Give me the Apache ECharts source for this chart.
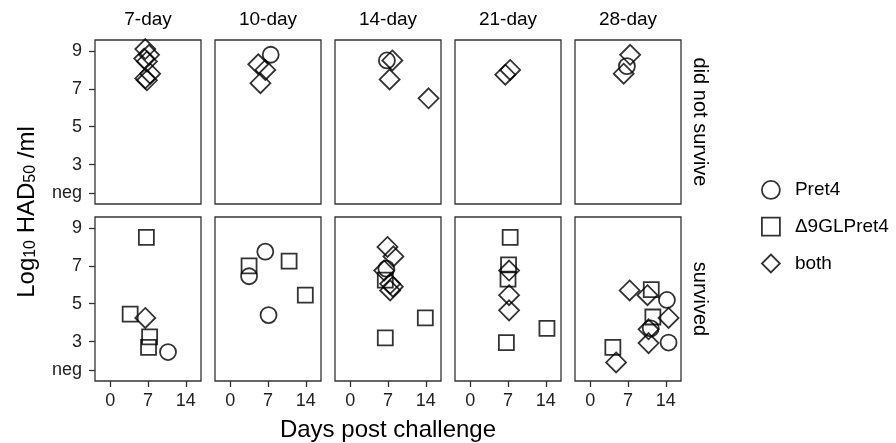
<!DOCTYPE html>
<html>
<head>
<meta charset="utf-8">
<script src="https://cdn.jsdelivr.net/npm/echarts@6/dist/echarts.min.js"></script>
<style>
  html, body { margin: 0; padding: 0; background: #fff; }
  #chart { width: 896px; height: 443px; }
</style>
</head>
<body>
<div id="chart"></div>
<script>
// Facet columns: time from infection to challenge
const periods = ['7-day', '10-day', '14-day', '21-day', '28-day'];
// Facet rows: outcome
const outcomes = ['did not survive', 'survived'];
const strains = ['Pret4', 'Δ9GLPret4', 'both'];

const xTicks = [0, 7, 14];
const yTicks = [1.5, 3, 5, 7, 9];
const yTickLabels = ['neg', '3', '5', '7', '9'];

// [days post challenge, log10 HAD50/ml], one list per period
const deadPret4 = [
  [],
  [[7.5, 8.8]],
  [[6.8, 8.5]],
  [],
  [[6.8, 8.2]]
];
const deadD9 = [[], [], [], [], []];
const deadBoth = [
  [[6.5, 9.1], [7.2, 8.8], [6.3, 8.6], [6.8, 8.45], [7.4, 7.8], [6.5, 7.55], [6.8, 7.45]],
  [[5.2, 8.3], [6.5, 8.0], [5.6, 7.3]],
  [[7.8, 8.5], [7.3, 7.5], [14.5, 6.5]],
  [[7.4, 8.0], [6.5, 7.75]],
  [[7.4, 8.8], [6.2, 7.8]]
];

const survPret4 = [
  [[10.7, 2.45]],
  [[3.5, 6.45], [6.5, 7.75], [7.1, 4.4]],
  [[6.7, 6.85]],
  [],
  [[14.2, 5.2], [11.2, 3.7], [14.5, 2.95]]
];
const survD9 = [
  [[6.7, 8.5], [3.7, 4.45], [7.3, 3.25], [7.1, 2.7]],
  [[3.5, 7.0], [10.9, 7.25], [13.9, 5.45]],
  [[6.5, 6.25], [6.5, 3.2], [13.9, 4.25]],
  [[7.4, 8.5], [7.1, 7.05], [7.0, 6.3], [6.7, 2.95], [14.2, 3.7]],
  [[11.3, 5.75], [11.6, 4.3], [4.2, 2.7]]
];
const survBoth = [
  [[6.5, 4.25]],
  [],
  [[6.9, 8.0], [8.0, 7.5], [6.3, 6.75], [7.4, 6.05], [7.9, 5.9], [7.4, 5.7]],
  [[7.2, 6.75], [7.2, 5.45], [7.2, 4.65]],
  [[7.3, 5.7], [10.6, 5.45], [14.5, 4.25], [10.8, 3.65], [10.8, 2.92], [4.8, 1.9]]
];

const rows = [
  [deadPret4, deadD9, deadBoth],
  [survPret4, survD9, survBoth]
];

const FONT = '"Liberation Sans", Arial, sans-serif';
const INK = '#000';
const FRAME = '#333';
const symbols = ['circle', 'rect', 'diamond'];
const sizes = [16, 15, 20];

const panelLeft = [95, 215, 335, 455, 575];
const panelWidth = 106;
const rowTop = [40, 217];
const panelHeight = 164;

const grid = [], xAxis = [], yAxis = [], series = [];
rows.forEach((rowData, r) => {
  periods.forEach((p, c) => {
    const idx = r * periods.length + c;
    grid.push({
      left: panelLeft[c], top: rowTop[r], width: panelWidth, height: panelHeight,
      show: true, borderColor: FRAME, borderWidth: 1.3, backgroundColor: '#fff'
    });
    xAxis.push({
      type: 'value', gridIndex: idx, min: -2.8, max: 16.8,
      splitLine: { show: false },
      axisLine: { show: false, onZero: false },
      axisTick: { show: r === 1, length: 6, customValues: xTicks, lineStyle: { color: FRAME, width: 1.3 } },
      axisLabel: { show: r === 1, customValues: xTicks, margin: 11, fontSize: 18, color: '#222', fontFamily: FONT }
    });
    yAxis.push({
      type: 'value', gridIndex: idx, min: 0.92, max: 9.58,
      splitLine: { show: false },
      axisLine: { show: false, onZero: false },
      axisTick: { show: c === 0, length: 6, customValues: yTicks, lineStyle: { color: FRAME, width: 1.3 } },
      axisLabel: {
        show: c === 0, customValues: yTicks, margin: 13, fontSize: 18, color: '#222', fontFamily: FONT,
        formatter: v => yTickLabels[yTicks.indexOf(v)]
      }
    });
    rowData.forEach((strainData, s) => {
      series.push({
        type: 'scatter', name: strains[s], xAxisIndex: idx, yAxisIndex: idx,
        symbol: symbols[s], symbolSize: sizes[s],
        itemStyle: { color: 'rgba(0,0,0,0)', borderColor: INK, borderWidth: 1.8 },
        emphasis: { disabled: true },
        data: strainData[c]
      });
    });
  });
});

const graphic = [];
// facet strip titles above each column
periods.forEach((p, c) => {
  graphic.push({
    type: 'text', x: panelLeft[c] + panelWidth / 2, y: 20,
    style: { text: p, fontSize: 19, fontFamily: FONT, fill: INK, align: 'center', verticalAlign: 'middle' }
  });
});
// facet strip labels on the right side
outcomes.forEach((o, r) => {
  graphic.push({
    type: 'text', x: 700, y: rowTop[r] + panelHeight / 2, rotation: -Math.PI / 2,
    style: { text: o, fontSize: 20, fontFamily: FONT, fill: INK, align: 'center', verticalAlign: 'middle' }
  });
});
// axis titles
graphic.push({
  type: 'text', x: 388, y: 430,
  style: { text: 'Days post challenge', fontSize: 24, fontFamily: FONT, fill: INK, align: 'center', verticalAlign: 'middle' }
});
graphic.push({
  type: 'text', x: 25, y: 212, rotation: Math.PI / 2,
  style: {
    text: '{a|Log}{s|10}{a| HAD}{s|50}{a| /ml}',
    align: 'center', verticalAlign: 'middle',
    rich: {
      a: { fontSize: 24, fontFamily: FONT, fill: INK, lineHeight: 28, verticalAlign: 'bottom' },
      s: { fontSize: 16, fontFamily: FONT, fill: INK, lineHeight: 17, padding: [9, 0, 0, 0], verticalAlign: 'bottom' }
    }
  }
});

const chart = echarts.init(document.getElementById('chart'), null, { renderer: 'canvas' });
chart.setOption({
  animation: false,
  backgroundColor: '#fff',
  grid, xAxis, yAxis, series, graphic,
  legend: {
    orient: 'vertical', left: 756, top: 175, itemGap: 17,
    itemWidth: 18, itemHeight: 18,
    textStyle: { fontSize: 19, fontFamily: FONT, color: INK, padding: [0, 0, 0, 10] },
    selectedMode: false,
    data: strains.map((name, s) => ({
      name, icon: symbols[s],
      itemStyle: { color: 'rgba(0,0,0,0)', borderColor: INK, borderWidth: 1.8 }
    }))
  }
});
</script>
</body>
</html>
